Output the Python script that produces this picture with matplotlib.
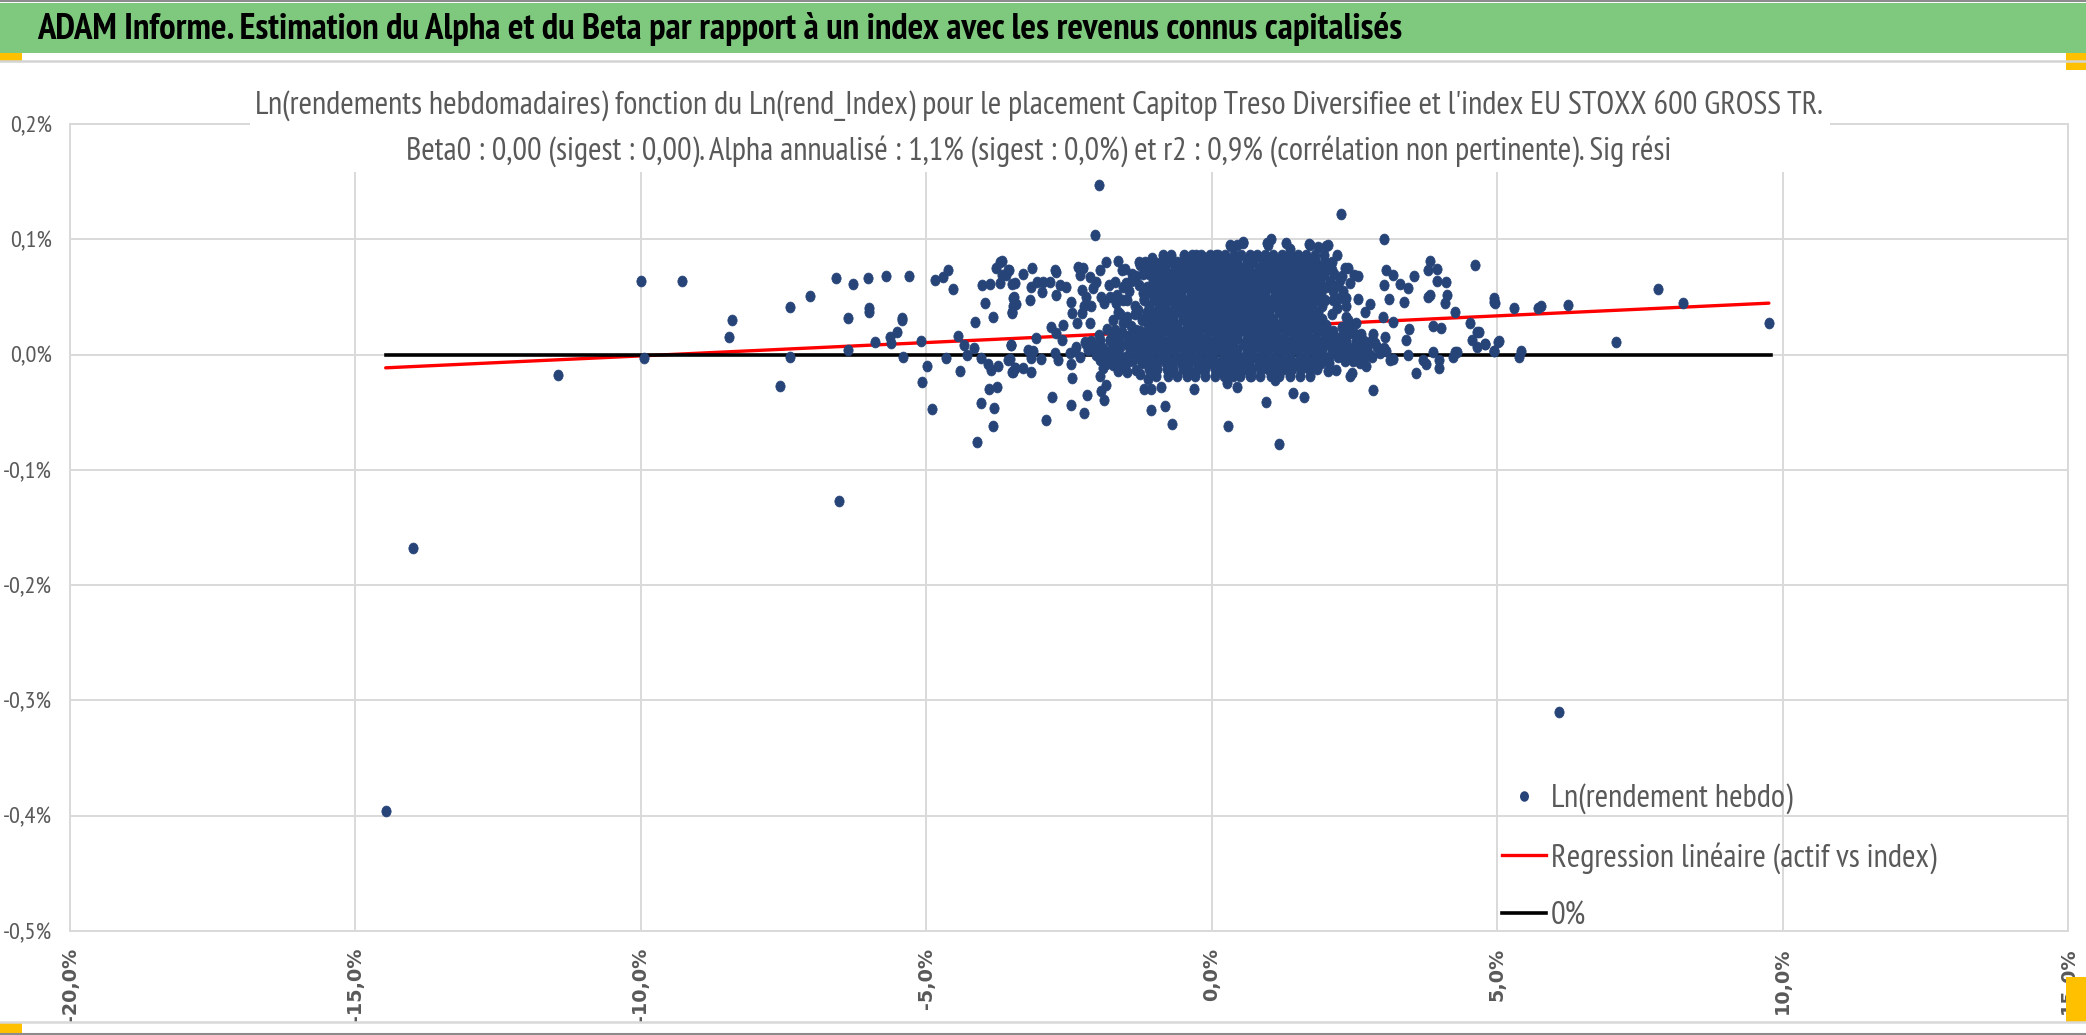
import matplotlib
matplotlib.use("Agg")
import matplotlib.pyplot as plt
from matplotlib import font_manager
from matplotlib.path import Path
from matplotlib.lines import Line2D
from matplotlib.patches import Rectangle

installed = {f.name for f in font_manager.fontManager.ttflist}


def pick(cands):
    for c in cands:
        if c in installed:
            return c
    return 'DejaVu Sans'


NARROW = pick(['PT Sans Narrow', 'Roboto Condensed', 'Archivo Narrow',
               'IBM Plex Sans Condensed', 'Open Sans Condensed'])
GREY = '#595959'
DOT = '#264478'

header = ("ADAM Informe. Estimation du Alpha et du Beta par rapport à un index "
          "avec les revenus connus capitalisés")
sub_line1 = ("Ln(rendements hebdomadaires) fonction du Ln(rend_Index) pour le placement "
             "Capitop Treso Diversifiee et l'index EU STOXX 600 GROSS TR.")
sub_line2 = ("Beta0 : 0,00 (sigest : 0,00). Alpha annualisé : 1,1% (sigest : 0,0%) "
             "et r2 : 0,9% (corrélation non pertinente). Sig rési")
legend_labels = ['Ln(rendement hebdo)', 'Regression linéaire (actif vs index)', '0%']

x_ticks = [-20, -15, -10, -5, 0, 5, 10, 15]
x_labels = ['-20,0%', '-15,0%', '-10,0%', '-5,0%', '0,0%', '5,0%', '10,0%', '15,0%']
y_ticks = [-0.5, -0.4, -0.3, -0.2, -0.1, 0.0, 0.1, 0.2]
y_labels = ['-0,5%', '-0,4%', '-0,3%', '-0,2%', '-0,1%', '0,0%', '0,1%', '0,2%']

# weekly log returns (%) vs index log returns (%)
far_idx = [-14.47, -14.00, -11.46, -6.53, 6.09, -1.98, -2.04, 2.27]
far_ret = [-0.396, -0.168, -0.018, -0.127, -0.310, 0.147, 0.104, 0.122]

left_idx = [-9.99, -9.28, -9.95, -8.41, -8.46, -7.38, -7.04, -7.39, -7.56, -6.58,
            -6.28, -6.02, -5.71, -5.31, -6.37, -6.01, -6.01, -6.38, -5.89, -5.64,
            -5.61, -5.52, -5.42, -5.42, -5.40, -5.10, -5.08, -4.99, -4.90, -4.84,
            -4.71, -4.62, -4.53, -4.66, -4.44, -4.34, -4.28, -4.17, -4.14, -4.41,
            -4.03, -3.89, -3.97, -3.83, -3.78, -3.70, -3.67, -3.71, -3.56, -4.04,
            -3.92, -3.86, -3.74, -3.91, -3.77, -4.04, -3.81, -3.84, -4.12, -3.54,
            -3.51, -3.49, -3.44, -3.45, -3.48, -3.42, -3.50]
left_ret = [0.064, 0.064, -0.003, 0.030, 0.015, 0.041, 0.051, -0.002, -0.027, 0.066,
            0.061, 0.066, 0.068, 0.068, 0.032, 0.040, 0.037, 0.004, 0.011, 0.015,
            0.010, 0.020, 0.032, 0.030, -0.002, 0.012, -0.024, -0.010, -0.047, 0.065,
            0.067, 0.073, 0.057, -0.003, 0.016, 0.008, 0.000, 0.006, 0.028, -0.014,
            0.060, 0.061, 0.045, 0.033, 0.075, 0.080, 0.069, 0.062, 0.073, -0.003,
            -0.008, -0.013, -0.010, -0.030, -0.028, -0.042, -0.046, -0.062, -0.076, -0.004,
            0.008, -0.015, -0.012, 0.062, 0.049, 0.044, 0.036]

mid_idx = [-3.68, -3.55, -3.50, -3.60, -3.46, -3.48, -3.50, -3.30, -3.15, -3.16,
           -3.06, -2.97, -2.95, -2.84, -3.18, -2.75, -2.72, -2.66, -2.55, -2.73,
           -2.47, -2.44, -2.34, -2.25, -2.31, -2.27, -2.20, -2.24, -2.28, -2.14,
           -2.08, -2.02, -1.96, -1.85, -1.94, -2.11, -2.14, -2.36, -2.81, -2.72,
           -2.60, -2.63, -3.08, -3.51, -3.57, -3.45, -3.30, -3.16, -3.48, -3.22,
           -3.13, -2.99, -3.17, -2.75, -2.69, -2.49, -2.46, -2.37, -2.22, -2.17,
           -2.31, -2.02, -1.96, -1.85, -1.90, -1.96, -2.45, -2.79, -2.91, -2.47,
           -2.18, -2.24, -1.94, -1.89, -1.86, -1.73, -1.64, -1.70, -1.58, -1.55,
           -1.49, -1.67, -1.79, -1.64, -1.49, -1.70, -1.47, -1.67, -1.79, -1.61,
           -1.52, -1.73, -1.38, -1.32, -1.26, -1.32, -1.29, -1.32, -1.14, -1.20,
           -1.11, -1.06, -1.14, -1.06, -1.19, -1.07, -1.06, -0.81, -0.70, -0.88,
           -0.85, -0.65, -0.47, -0.28, -0.12, -0.31, 0.29, 0.44, 0.27, 0.08,
           0.34, 0.55, 0.75, -1.25, -1.40, -1.28, -1.45, -1.35, -1.55, -1.22,
           -1.42, -1.60, -1.80, -1.88, -1.50, -1.95, -1.78, -1.62, -2.05, -1.90,
           -1.74, -1.60, -1.92, -1.80, -1.66, -1.52, -1.85, -1.70, -1.56, -1.64,
           -1.48, -2.20, -2.40, -1.36, -1.46, -1.58, -1.30, -1.44, -1.72, -1.84,
           -1.38, -1.52, -1.66, -1.98, -2.12, -1.26, -1.12, -1.05, -1.34, -1.18,
           -1.56, -1.42, -1.28]
mid_ret = [0.081, 0.073, 0.061, 0.069, 0.050, 0.042, 0.037, 0.070, 0.075, 0.059,
           0.063, 0.054, 0.063, 0.063, 0.047, 0.073, 0.072, 0.060, 0.059, 0.052,
           0.046, 0.036, 0.076, 0.075, 0.069, 0.056, 0.050, 0.042, 0.036, 0.067,
           0.058, 0.063, 0.073, 0.080, 0.050, 0.042, 0.027, 0.027, 0.024, 0.019,
           0.026, 0.013, 0.014, 0.008, -0.005, -0.012, -0.012, -0.015, -0.015, 0.004,
           0.003, -0.004, -0.003, 0.001, -0.005, 0.001, -0.008, 0.007, 0.011, 0.004,
           -0.002, 0.000, -0.005, 0.001, -0.012, -0.019, -0.020, -0.037, -0.057, -0.044,
           -0.035, -0.051, -0.032, -0.039, -0.026, 0.030, 0.081, 0.063, 0.073, 0.059,
           0.047, 0.045, 0.050, 0.037, 0.033, 0.021, 0.016, 0.008, 0.013, -0.002,
           -0.010, -0.009, -0.005, -0.013, 0.007, 0.021, 0.039, 0.068, 0.073, 0.053,
           0.033, 0.016, -0.002, -0.016, -0.030, -0.030, -0.048, -0.045, -0.060, -0.028,
           0.081, 0.079, 0.084, 0.086, 0.084, -0.030, -0.062, -0.028, -0.025, 0.086,
           0.094, 0.098, 0.085, 0.078, 0.070, 0.060, 0.055, 0.042, 0.047, 0.030,
           0.025, 0.035, 0.060, 0.045, 0.062, 0.013, 0.013, 0.014, 0.006, 0.006,
           0.006, 0.007, -0.001, -0.001, -0.001, -0.002, -0.008, -0.008, -0.009, -0.014,
           -0.015, 0.009, 0.003, 0.018, 0.011, 0.020, 0.004, -0.006, 0.016, 0.022,
           0.065, 0.074, 0.052, 0.017, 0.012, -0.017, -0.021, 0.084, 0.035, 0.048,
           0.027, 0.064, 0.080]

right_idx = [3.02, 4.62, 3.82, 3.79, 3.95, 3.95, 4.10, 4.12, 4.09, 3.79,
             3.82, 4.26, 4.52, 4.65, 4.56, 4.65, 4.78, 4.94, 4.94, 5.01,
             4.94, 4.26, 4.30, 4.23, 3.99, 3.99, 3.88, 3.70, 3.75, 3.57,
             3.88, 4.02, 3.46, 3.40, 3.44, 3.18, 3.36, 3.10, 3.01, 3.06,
             3.18, 3.30, 3.44, 3.54, 3.00, 3.04, 2.83, 2.77, 2.68, 2.56,
             2.50, 2.39, 2.57, 2.36, 2.47, 2.30, 2.50, 2.68, 2.80, 2.71,
             3.06, 3.12, 3.18, 2.83, 2.45, 2.42, 2.18, 2.04, 1.42, 1.62,
             0.95, 1.17, 1.10, 0.67, 2.04, 2.00, 1.87, 1.70, 1.37, 1.31,
             1.03, 0.96, 0.55, 1.49, 1.74, 2.10, 2.24, 2.33, 1.95, 2.01,
             2.12, 2.24, 2.36, 4.69, 4.78, 4.96, 5.03, 4.94, 5.29, 5.38,
             5.42, 5.71, 5.77, 6.24, 7.09, 7.82, 8.26, 9.76, 0.32, 0.45,
             0.99, 1.72, 2.35, 2.52, 2.66, 2.80, 2.40, 2.58, 2.72, 2.90,
             3.02, 2.36, 2.50, 2.62, 2.78, 2.94, 2.33, 2.48, 2.60, 2.30,
             2.44, 2.62, 2.28, 2.40, 2.05, 2.15, 2.22, 2.12, 2.30, 2.20,
             2.35, 2.10, 2.42, 2.28, 2.46, 2.56, 2.70, 2.86, 2.52, 2.66,
             2.20, 2.38, 2.14]
right_ret = [0.100, 0.078, 0.081, 0.073, 0.074, 0.064, 0.063, 0.052, 0.045, 0.050,
             0.052, 0.037, 0.027, 0.020, 0.013, 0.007, 0.009, 0.049, 0.046, 0.011,
             0.003, 0.002, 0.002, -0.002, -0.005, -0.012, 0.002, -0.005, -0.008, -0.016,
             0.025, 0.023, 0.022, 0.013, 0.000, 0.028, 0.046, 0.048, 0.060, 0.073,
             0.069, 0.061, 0.058, 0.068, 0.033, 0.015, 0.018, 0.044, 0.037, 0.048,
             0.069, 0.075, 0.068, 0.033, 0.020, 0.016, 0.007, 0.008, -0.002, -0.010,
             0.003, -0.005, -0.004, -0.031, -0.016, -0.019, -0.013, -0.014, -0.033, -0.037,
             -0.041, -0.078, -0.022, -0.019, 0.095, 0.094, 0.093, 0.096, 0.092, 0.097,
             0.100, 0.097, 0.097, 0.082, 0.081, 0.073, 0.065, 0.075, 0.069, 0.059,
             0.047, 0.049, 0.049, 0.020, 0.009, 0.045, 0.012, 0.003, 0.040, -0.002,
             0.003, 0.040, 0.042, 0.043, 0.011, 0.057, 0.045, 0.027, 0.095, 0.095,
             0.095, 0.095, 0.012, 0.012, 0.012, 0.013, 0.006, 0.006, 0.006, 0.007,
             0.006, 0.000, 0.000, -0.001, 0.000, 0.001, -0.006, -0.006, -0.007, 0.018,
             0.019, 0.018, 0.024, 0.025, 0.078, 0.070, 0.060, 0.055, 0.055, 0.040,
             0.042, 0.035, 0.062, 0.068, 0.003, 0.017, 0.003, 0.010, 0.027, -0.003,
             0.086, 0.030, 0.048]

# dense core of the cloud, read row by row: one return level, the index values on it
core_ret = [0.0862, 0.0806, 0.0751, 0.0697, 0.0641, 0.0586, 0.0532, 0.0477, 0.0421, 0.0366,
            0.0312, 0.0257, 0.0201, 0.0146, 0.0092, 0.0036, -0.0019, -0.0074, -0.0129, -0.0186]
core_idx = [
    [-0.86, -0.71, -0.49, -0.34, -0.19, -0.03, 0.11, 0.23, 0.39, 0.51, 0.67, 0.80, 0.94, 1.08, 1.23, 1.37, 1.51, 1.65, 1.81, 1.97],
    [-1.16, -1.01, -0.89, -0.77, -0.61, -0.47, -0.36, -0.20, -0.08, 0.07, 0.19, 0.34, 0.45, 0.62, 0.73, 0.89, 1.01, 1.16, 1.28, 1.44, 1.55, 1.71, 1.83, 1.98, 2.11],
    [-1.07, -0.92, -0.82, -0.65, -0.54, -0.40, -0.28, -0.12, 0.01, 0.12, 0.28, 0.40, 0.55, 0.66, 0.82, 0.94, 1.09, 1.21, 1.36, 1.49, 1.64, 1.76, 1.91, 2.04],
    [-1.21, -1.09, -0.99, -0.85, -0.73, -0.58, -0.47, -0.32, -0.20, -0.05, 0.06, 0.22, 0.33, 0.49, 0.60, 0.76, 0.87, 1.02, 1.14, 1.29, 1.41, 1.57, 1.68, 1.84, 1.96],
    [-1.03, -0.90, -0.79, -0.64, -0.53, -0.38, -0.26, -0.11, 0.00, 0.15, 0.27, 0.42, 0.54, 0.69, 0.81, 0.96, 1.08, 1.23, 1.34, 1.50, 1.61, 1.77, 1.89, 2.07],
    [-1.14, -0.98, -0.84, -0.73, -0.57, -0.46, -0.31, -0.19, -0.04, 0.07, 0.22, 0.34, 0.49, 0.61, 0.76, 0.88, 1.03, 1.14, 1.30, 1.41, 1.57, 1.69, 1.85, 1.95],
    [-1.06, -0.91, -0.80, -0.64, -0.53, -0.37, -0.26, -0.11, 0.03, 0.14, 0.29, 0.41, 0.56, 0.68, 0.83, 0.94, 1.10, 1.21, 1.37, 1.48, 1.64, 1.76, 1.92],
    [-1.19, -1.01, -0.85, -0.73, -0.58, -0.46, -0.31, -0.20, -0.04, 0.07, 0.23, 0.34, 0.50, 0.61, 0.77, 0.88, 1.03, 1.15, 1.30, 1.42, 1.57, 1.69, 1.85, 1.98],
    [-1.09, -0.93, -0.81, -0.65, -0.54, -0.38, -0.27, -0.11, 0.02, 0.14, 0.29, 0.41, 0.56, 0.68, 0.83, 0.95, 1.10, 1.22, 1.37, 1.49, 1.64, 1.76, 1.93],
    [-1.13, -0.98, -0.87, -0.72, -0.61, -0.45, -0.34, -0.18, -0.07, 0.09, 0.20, 0.36, 0.47, 0.63, 0.74, 0.90, 1.01, 1.17, 1.28, 1.44, 1.55, 1.71, 1.86],
    [-1.21, -1.05, -0.94, -0.78, -0.67, -0.51, -0.40, -0.25, -0.13, 0.02, 0.14, 0.29, 0.43, 0.54, 0.70, 0.81, 0.97, 1.08, 1.24, 1.35, 1.51, 1.63, 1.79, 1.94],
    [-1.11, -0.98, -0.87, -0.71, -0.60, -0.44, -0.33, -0.17, -0.06, 0.09, 0.21, 0.36, 0.48, 0.63, 0.75, 0.90, 1.02, 1.17, 1.29, 1.44, 1.56, 1.72, 1.84, 2.01],
    [-1.26, -1.11, -1.00, -0.85, -0.73, -0.58, -0.47, -0.31, -0.20, -0.04, 0.07, 0.23, 0.34, 0.50, 0.61, 0.77, 0.88, 1.03, 1.15, 1.31, 1.42, 1.58, 1.69, 1.85, 1.97, 2.13],
    [-1.41, -1.26, -1.15, -1.00, -0.89, -0.73, -0.62, -0.47, -0.36, -0.20, -0.09, 0.07, 0.18, 0.34, 0.45, 0.61, 0.72, 0.88, 0.99, 1.15, 1.26, 1.42, 1.53, 1.69, 1.81, 1.96, 2.08, 2.23],
    [-1.49, -1.34, -1.23, -1.08, -0.96, -0.81, -0.70, -0.54, -0.43, -0.27, -0.16, 0.00, 0.11, 0.27, 0.38, 0.54, 0.65, 0.81, 0.92, 1.08, 1.19, 1.35, 1.46, 1.62, 1.74, 1.89, 2.01, 2.16, 2.31],
    [-1.43, -1.28, -1.16, -1.01, -0.89, -0.74, -0.62, -0.47, -0.36, -0.20, -0.09, 0.07, 0.18, 0.34, 0.45, 0.61, 0.72, 0.88, 0.99, 1.15, 1.26, 1.42, 1.53, 1.69, 1.83, 1.94, 2.10, 2.25],
    [-1.31, -1.16, -1.05, -0.89, -0.78, -0.62, -0.51, -0.35, -0.24, -0.08, 0.03, 0.19, 0.30, 0.46, 0.57, 0.73, 0.84, 1.00, 1.11, 1.27, 1.38, 1.54, 1.65, 1.81, 1.95, 2.06, 2.21],
    [-1.22, -1.07, -0.96, -0.80, -0.69, -0.53, -0.42, -0.26, -0.15, 0.01, 0.12, 0.28, 0.39, 0.55, 0.66, 0.82, 0.93, 1.09, 1.20, 1.36, 1.47, 1.63, 1.77, 1.91, 2.05],
    [-1.09, -0.96, -0.79, -0.67, -0.51, -0.39, -0.24, -0.11, 0.05, 0.16, 0.32, 0.44, 0.59, 0.71, 0.87, 0.98, 1.14, 1.26, 1.41, 1.56, 1.71, 1.85],
    [-0.97, -0.77, -0.61, -0.44, -0.29, -0.11, 0.06, 0.21, 0.38, 0.49, 0.69, 0.85, 1.03, 1.18, 1.37, 1.54, 1.73],
]

reg_idx = [-14.47, 9.76]
reg_ret = [-0.0115, 0.0446]
zero_idx = [-14.47, 9.80]
zero_ret = [0.0, 0.0]


def fx(px):
    return px / 2086


def fy(py):
    return 1 - py / 1035


fig = plt.figure(figsize=(20.86, 10.35), dpi=100)
fig.patch.set_facecolor('white')
renderer = fig.canvas.get_renderer()


def size_for(text, target_px, **kw):
    # font size that makes `text` as wide as in the reference
    t = fig.text(0, 0, text, fontsize=20, **kw)
    w = t.get_window_extent(renderer).width
    t.remove()
    return 20 * target_px / w


# green header band and the excel frame bits
fig.add_artist(Rectangle((0, fy(53)), 1, 50 / 1035, transform=fig.transFigure,
                         facecolor='#7fc97f', edgecolor='none'))
fig.add_artist(Line2D([0, 1], [fy(1)] * 2, transform=fig.transFigure, color='#8c8c8c', lw=1.5))
fig.add_artist(Line2D([0, 1], [fy(1034)] * 2, transform=fig.transFigure, color='#8c8c8c', lw=1.5))
fig.add_artist(Line2D([0, 1], [fy(61)] * 2, transform=fig.transFigure, color='#d4d4d4', lw=1.8))
fig.add_artist(Line2D([0, 1], [fy(1022)] * 2, transform=fig.transFigure, color='#d9d9d9', lw=1.8))
for x0, y0, x1, y1 in [(0, 53, 22, 61), (2066, 53, 2086, 70), (0, 1023, 22, 1033), (2066, 977, 2086, 1023)]:
    fig.add_artist(Rectangle((fx(x0), fy(y1)), (x1 - x0) / 2086, (y1 - y0) / 1035,
                             transform=fig.transFigure, facecolor='#ffc000', edgecolor='none'))

fs_head = size_for(header, 1369, family=NARROW, fontweight='bold')
fig.text(fx(37), fy(39), header, family=NARROW, fontsize=fs_head, fontweight='bold',
         color='black', ha='left', va='baseline')

ax = fig.add_axes([fx(70), fy(931), (2068 - 70) / 2086, (931 - 124) / 1035])
ax.set_xlim(-20, 15)
ax.set_ylim(-0.5, 0.2)
ax.set_xticks(x_ticks)
ax.set_xticklabels(x_labels, rotation=90, family='DejaVu Sans', fontweight='bold',
                   fontsize=13.8, color=GREY)
ax.set_yticks(y_ticks)
ax.set_yticklabels(y_labels, family=NARROW, fontsize=size_for('0,2%', 42, family=NARROW),
                   color=GREY)
ax.tick_params(axis='both', length=0)
ax.tick_params(axis='x', pad=12)
ax.tick_params(axis='y', pad=13)
ax.grid(True, color='#d9d9d9', lw=1.4)
ax.set_axisbelow(True)
for s in ax.spines.values():
    s.set_color('#d9d9d9')
    s.set_linewidth(1.4)

ax.plot(reg_idx, reg_ret, color='#ff0000', lw=2.4, solid_capstyle='round', zorder=2)
ax.plot(zero_idx, zero_ret, color='black', lw=2.6, zorder=2)

circle = Path.unit_circle()
dot = Path(circle.vertices * [0.85, 1.0], circle.codes)

all_idx = far_idx + left_idx + mid_idx + right_idx
all_ret = far_ret + left_ret + mid_ret + right_ret
for r, row in zip(core_ret, core_idx):
    all_idx += row
    all_ret += [r] * len(row)
ax.scatter(all_idx, all_ret, s=62, marker=dot, color=DOT, edgecolors=DOT,
           linewidths=0.5, zorder=3)

# chart title sits on a white box that hides the top gridline
fig.add_artist(Rectangle((fx(250), fy(172)), (1830 - 250) / 2086, (172 - 80) / 1035,
                         transform=fig.transFigure, facecolor='white', edgecolor='none',
                         zorder=2.5))
fs_sub = size_for(sub_line1, 1562, family=NARROW)
fig.text(fx(1039), fy(115), sub_line1, family=NARROW, fontsize=fs_sub, color=GREY,
         ha='center', va='baseline')
fig.text(fx(1039), fy(160), sub_line2, family=NARROW, fontsize=fs_sub, color=GREY,
         ha='center', va='baseline')

fs_leg = size_for(legend_labels[1], 384, family=NARROW)
probe = fig.text(0, 0, legend_labels[0], family=NARROW, fontsize=fs_leg)
row_h = probe.get_window_extent(renderer).height
probe.remove()
fs_leg_px = fs_leg * 100 / 72
handles = [
    Line2D([], [], marker=dot, ls='none', color=DOT, markersize=7.6, markeredgewidth=0),
    Line2D([], [], color='#ff0000', lw=2.4),
    Line2D([], [], color='black', lw=2.6),
]
ax.legend(handles, legend_labels, loc='upper left',
          bbox_to_anchor=(fx(1502), fy(799 - row_h / 2)),
          bbox_transform=fig.transFigure, frameon=False, borderpad=0, borderaxespad=0,
          handlelength=44 / fs_leg_px, handletextpad=5 / fs_leg_px,
          labelspacing=(58.5 - row_h) / fs_leg_px,
          prop={'family': NARROW, 'size': fs_leg}, labelcolor=GREY)

fig.savefig('out.png', dpi=100)
